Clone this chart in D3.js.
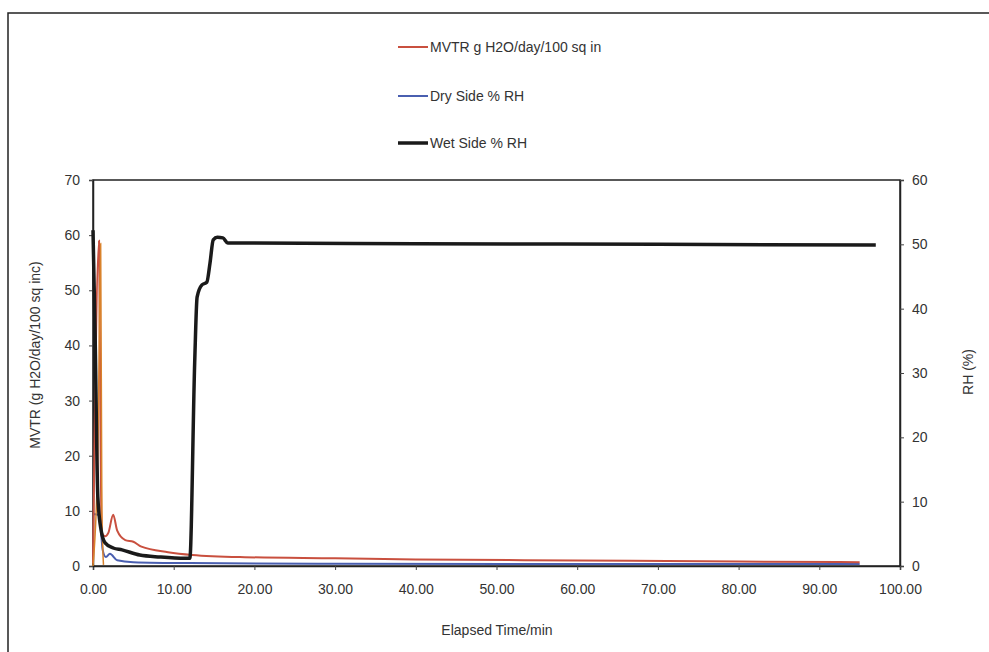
<!DOCTYPE html>
<html>
<head>
<meta charset="utf-8">
<script src="https://cdn.jsdelivr.net/npm/d3@7"></script>
<style>
  body { margin: 0; background: #fff; }
  svg { display: block; font-family: "Liberation Sans", Arial, sans-serif; }
</style>
</head>
<body>
<svg id="chart" width="989" height="652"></svg>
<script>
// MVTR test run: transmission rate (left axis) and humidity on both sides (right axis)
const seriesNames = ["MVTR g H2O/day/100 sq in", "Dry Side % RH", "Wet Side % RH"];

// MVTR, g H2O/day/100 sq in
const mvtrTime  = [0, 0.75, 0.9, 1.05, 1.5, 1.9, 2.5, 3.0, 4.0, 5.0, 6.0, 9.3, 12.3, 18.8, 30, 40, 60, 80, 95];
const mvtrValue = [0.5, 59.0, 30, 6.3, 5.4, 6.0, 9.3, 6.4, 4.7, 4.4, 3.5, 2.5, 2.0, 1.6, 1.4, 1.2, 1.0, 0.8, 0.7];

// Short transient trace on the MVTR axis
const spikeTime  = [0.0, 0.6, 0.95, 1.1, 1.3];
const spikeValue = [0.0, 20, 58.5, 10, 0.2];

// Dry side relative humidity, %
const dryTime  = [0, 0.8, 1.2, 1.6, 2.1, 3.0, 5.0, 12, 30, 60, 95];
const dryValue = [8.1, 7.9, 2.5, 1.4, 1.9, 0.9, 0.6, 0.45, 0.35, 0.3, 0.3];

// Wet side relative humidity, %
const wetTime  = [0, 0.25, 0.6, 1.0, 1.5, 2.5, 3.6, 5.8, 8.3, 11.4, 12.0, 12.6, 12.9, 13.5, 14.1, 14.5, 14.9, 15.4, 16.1, 16.7, 18.8, 40, 70, 97];
const wetValue = [52.2, 36.7, 10.7, 5.6, 3.6, 2.8, 2.5, 1.7, 1.4, 1.2, 1.2, 31.6, 41.8, 43.7, 44.1, 47.1, 50.7, 51.1, 51.0, 50.2, 50.2, 50.1, 50.0, 49.9];

const xTicks = [0, 10, 20, 30, 40, 50, 60, 70, 80, 90, 100];
const leftTicks = [0, 10, 20, 30, 40, 50, 60, 70];
const rightTicks = [0, 10, 20, 30, 40, 50, 60];

const svg = d3.select("#chart");
const plot = { left: 93, right: 900, top: 180, bottom: 566 };

const x = d3.scaleLinear().domain([0, 100]).range([plot.left, plot.right]);
const yL = d3.scaleLinear().domain([0, 70]).range([plot.bottom, plot.top]);
const yR = d3.scaleLinear().domain([0, 60]).range([plot.bottom, plot.top]);

// outer chart frame
svg.append("rect").attr("x", 8).attr("y", 13).attr("width", 1000).attr("height", 700)
  .attr("fill", "#fff").attr("stroke", "#222").attr("stroke-width", 1.5);

// plot area frame
svg.append("rect").attr("x", plot.left).attr("y", plot.top)
  .attr("width", plot.right - plot.left).attr("height", plot.bottom - plot.top)
  .attr("fill", "#fff").attr("stroke", "#222").attr("stroke-width", 1.5);

const fmt2 = d3.format(".2f");

const gx = svg.append("g").attr("transform", `translate(0,${plot.bottom})`)
  .call(d3.axisBottom(x).tickValues(xTicks).tickFormat(fmt2).tickSize(4).tickPadding(14));
const gl = svg.append("g").attr("transform", `translate(${plot.left},0)`)
  .call(d3.axisLeft(yL).tickValues(leftTicks).tickSize(4).tickPadding(9));
const gr = svg.append("g").attr("transform", `translate(${plot.right},0)`)
  .call(d3.axisRight(yR).tickValues(rightTicks).tickSize(4).tickPadding(8));

[gx, gl, gr].forEach(g => {
  g.select(".domain").attr("stroke", "#222").attr("stroke-width", 1.5);
  g.selectAll(".tick line").attr("stroke", "#444");
  g.selectAll(".tick text").attr("fill", "#333").attr("font-size", 14)
    .attr("font-family", "Liberation Sans, Arial, sans-serif");
});

// axis titles
svg.append("text").attr("x", 497).attr("y", 635).attr("text-anchor", "middle")
  .attr("font-size", 14).attr("fill", "#333").text("Elapsed Time/min");
svg.append("text").attr("transform", "translate(40,355) rotate(-90)").attr("text-anchor", "middle")
  .attr("font-size", 14).attr("fill", "#333").text("MVTR (g H2O/day/100 sq inc)");
svg.append("text").attr("transform", "translate(973,372) rotate(-90)").attr("text-anchor", "middle")
  .attr("font-size", 14).attr("fill", "#333").text("RH (%)");

const lineL = (ts, vs) => d3.line().x((d, i) => x(ts[i])).y(d => yL(d)).curve(d3.curveMonotoneX)(vs);
const lineR = (ts, vs) => d3.line().x((d, i) => x(ts[i])).y(d => yR(d)).curve(d3.curveMonotoneX)(vs);

const colors = { mvtr: "#c9503f", spike: "#d9822b", dry: "#4a5fb0", wet: "#1a1a1a" };

svg.append("path").attr("d", lineR(dryTime, dryValue))
  .attr("fill", "none").attr("stroke", colors.dry).attr("stroke-width", 2);
svg.append("path").attr("d", lineL(mvtrTime, mvtrValue))
  .attr("fill", "none").attr("stroke", colors.mvtr).attr("stroke-width", 2);
svg.append("path").attr("d", lineL(spikeTime, spikeValue))
  .attr("fill", "none").attr("stroke", colors.spike).attr("stroke-width", 1.5);
svg.append("path").attr("d", lineR(wetTime, wetValue))
  .attr("fill", "none").attr("stroke", colors.wet).attr("stroke-width", 3.5)
  .attr("stroke-linejoin", "round");

// legend
const legend = [
  { name: seriesNames[0], color: colors.mvtr, w: 2, y: 47 },
  { name: seriesNames[1], color: colors.dry, w: 2, y: 96 },
  { name: seriesNames[2], color: colors.wet, w: 3.5, y: 143 }
];
const lg = svg.append("g");
legend.forEach(d => {
  lg.append("line").attr("x1", 398).attr("x2", 428).attr("y1", d.y).attr("y2", d.y)
    .attr("stroke", d.color).attr("stroke-width", d.w);
  lg.append("text").attr("x", 430).attr("y", d.y + 5).attr("font-size", 14)
    .attr("fill", "#333").text(d.name);
});
</script>
</body>
</html>
